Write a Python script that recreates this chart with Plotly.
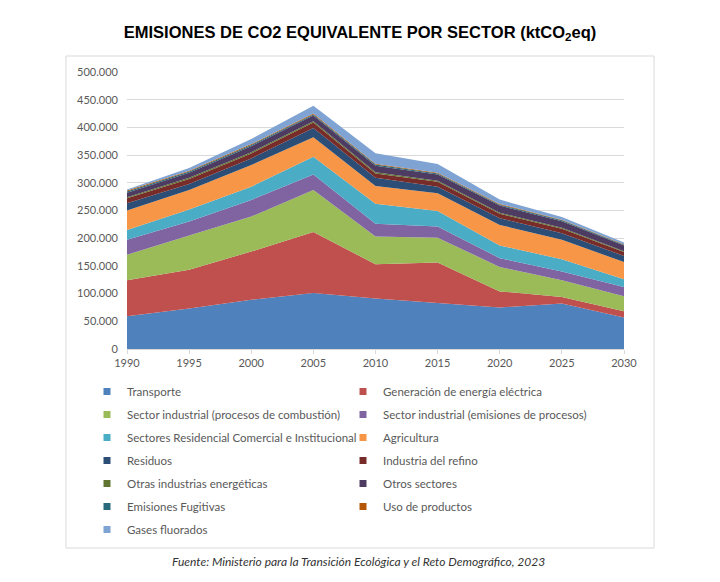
import plotly.graph_objects as go

years = [1990, 1995, 2000, 2005, 2010, 2015, 2020, 2025, 2030]

sectores = [
    "Transporte",
    "Generación de energía eléctrica",
    "Sector industrial (procesos de combustión)",
    "Sector industrial (emisiones de procesos)",
    "Sectores Residencial Comercial e Institucional",
    "Agricultura",
    "Residuos",
    "Industria del refino",
    "Otras industrias energéticas",
    "Otros sectores",
    "Emisiones Fugitivas",
    "Uso de productos",
    "Gases fluorados",
]

transporte = [59000, 73000, 89000, 101000, 91000, 83000, 75000, 82000, 57000]
generacion = [65000, 70000, 87000, 110000, 62000, 73000, 29000, 12000, 11000]
ind_combustion = [46000, 62000, 63000, 76000, 50000, 45000, 44000, 30000, 27000]
ind_procesos = [27000, 25000, 30000, 28000, 23000, 20000, 16000, 16000, 17000]
residencial = [18000, 22000, 24000, 32000, 36000, 28000, 23000, 22000, 14000]
agricultura = [35000, 35000, 39000, 35000, 32000, 32000, 37000, 35000, 31000]
residuos = [13000, 11000, 12000, 17000, 15000, 12000, 12000, 12000, 11000]
refino = [9000, 9000, 9000, 10000, 8000, 9000, 8000, 8000, 7000]
otras_energeticas = [2000, 2100, 2200, 2300, 2000, 1900, 1800, 1700, 1600]
otros_sectores = [8000, 9000, 11000, 10000, 12000, 11000, 13000, 12000, 10000]
fugitivas = [2500, 2300, 2200, 2200, 2000, 2000, 1800, 1600, 1500]
uso_productos = [1500, 1500, 1500, 1500, 1200, 1200, 1100, 1000, 1000]
gases_fluorados = [2000, 5000, 9000, 14000, 19000, 16000, 8000, 5000, 3000]

series = [transporte, generacion, ind_combustion, ind_procesos, residencial,
          agricultura, residuos, refino, otras_energeticas, otros_sectores,
          fugitivas, uso_productos, gases_fluorados]

colores = ["#4F81BD", "#C0504D", "#9BBB59", "#8064A2", "#4BACC6", "#F79646",
           "#2C4D75", "#772C2A", "#5F7530", "#4D3B62", "#276A7C", "#B65708",
           "#7FA3D3"]

y_ticks = [0, 50000, 100000, 150000, 200000, 250000, 300000, 350000, 400000, 450000, 500000]

titulo = "<b>EMISIONES DE CO2 EQUIVALENTE POR SECTOR (ktCO<sub>2</sub>eq)</b>"
fuente = "<i>Fuente: Ministerio para la Transición Ecológica y el Reto Demográfico, 2023</i>"

fig = go.Figure()

for nombre, vals, col in zip(sectores, series, colores):
    fig.add_trace(go.Scatter(
        x=years, y=vals, name=nombre, stackgroup="one", mode="none",
        fillcolor=col, line=dict(width=0), showlegend=False,
    ))

# legend entries (two columns)
for i, (nombre, col) in enumerate(zip(sectores, colores)):
    fig.add_trace(go.Scatter(
        x=[None], y=[None], mode="markers", name=nombre,
        marker=dict(symbol="square", size=7, color=col),
        legend="legend" if i % 2 == 0 else "legend2",
        legendgroup=nombre, showlegend=True,
    ))

# page offset (body margin) and target page-pixel positions
O = 8
W, H = 720 - O, 582 - O
L, R, T, B = 127 - O, 624 - O, 72 - O, 349 - O

def px_x(px):
    return (px - O - L) / (R - L)

def px_y(py):
    return (B - (py - O)) / (B - T)

gris = "#595959"
fuente_txt = "Lato"

fig.update_layout(
    width=W, height=H,
    margin=dict(l=L, r=W - R, t=T, b=H - B),
    paper_bgcolor="white", plot_bgcolor="white",
    separators=",.",
    title=dict(text=titulo, x=(360 - O) / W, xref="container", xanchor="center",
               y=1 - (32 - O) / H, yref="container", yanchor="middle",
               font=dict(family="Liberation Sans", size=16.5, color="black")),
    xaxis=dict(range=[1990, 2030], tickvals=years, showgrid=False,
               showline=True, linecolor="#D9D9D9", ticks="outside", ticklen=4,
               tickcolor="#D9D9D9", tickfont=dict(family=fuente_txt, size=11, color=gris),
               zeroline=False, fixedrange=True),
    yaxis=dict(range=[0, 500000], tickvals=y_ticks, tickformat=",d",
               showgrid=True, gridcolor="#D9D9D9", gridwidth=1, zeroline=False,
               showline=False, ticks="", ticklabelstandoff=8,
               tickfont=dict(family=fuente_txt, size=11, color=gris), fixedrange=True),
    legend=dict(x=px_x(87), y=px_y(377), xanchor="left", yanchor="top",
                orientation="v", traceorder="grouped", tracegroupgap=4,
                bgcolor="rgba(0,0,0,0)", itemwidth=30,
                font=dict(family=fuente_txt, size=11.5, color=gris)),
    legend2=dict(x=px_x(343), y=px_y(377), xanchor="left", yanchor="top",
                 orientation="v", traceorder="grouped", tracegroupgap=4,
                 bgcolor="rgba(0,0,0,0)", itemwidth=30,
                 font=dict(family=fuente_txt, size=11.5, color=gris)),
    shapes=[dict(type="rect", xref="paper", yref="paper",
                 x0=px_x(66), x1=px_x(654), y0=px_y(548), y1=px_y(56),
                 line=dict(color="#D9D9D9", width=1), fillcolor="rgba(0,0,0,0)",
                 layer="below")],
    annotations=[dict(text=fuente, xref="paper", yref="paper",
                      x=px_x(358), y=px_y(561), xanchor="center", yanchor="middle",
                      showarrow=False,
                      font=dict(family=fuente_txt, size=12, color="#333333"))],
)

fig.write_html("out.html")
